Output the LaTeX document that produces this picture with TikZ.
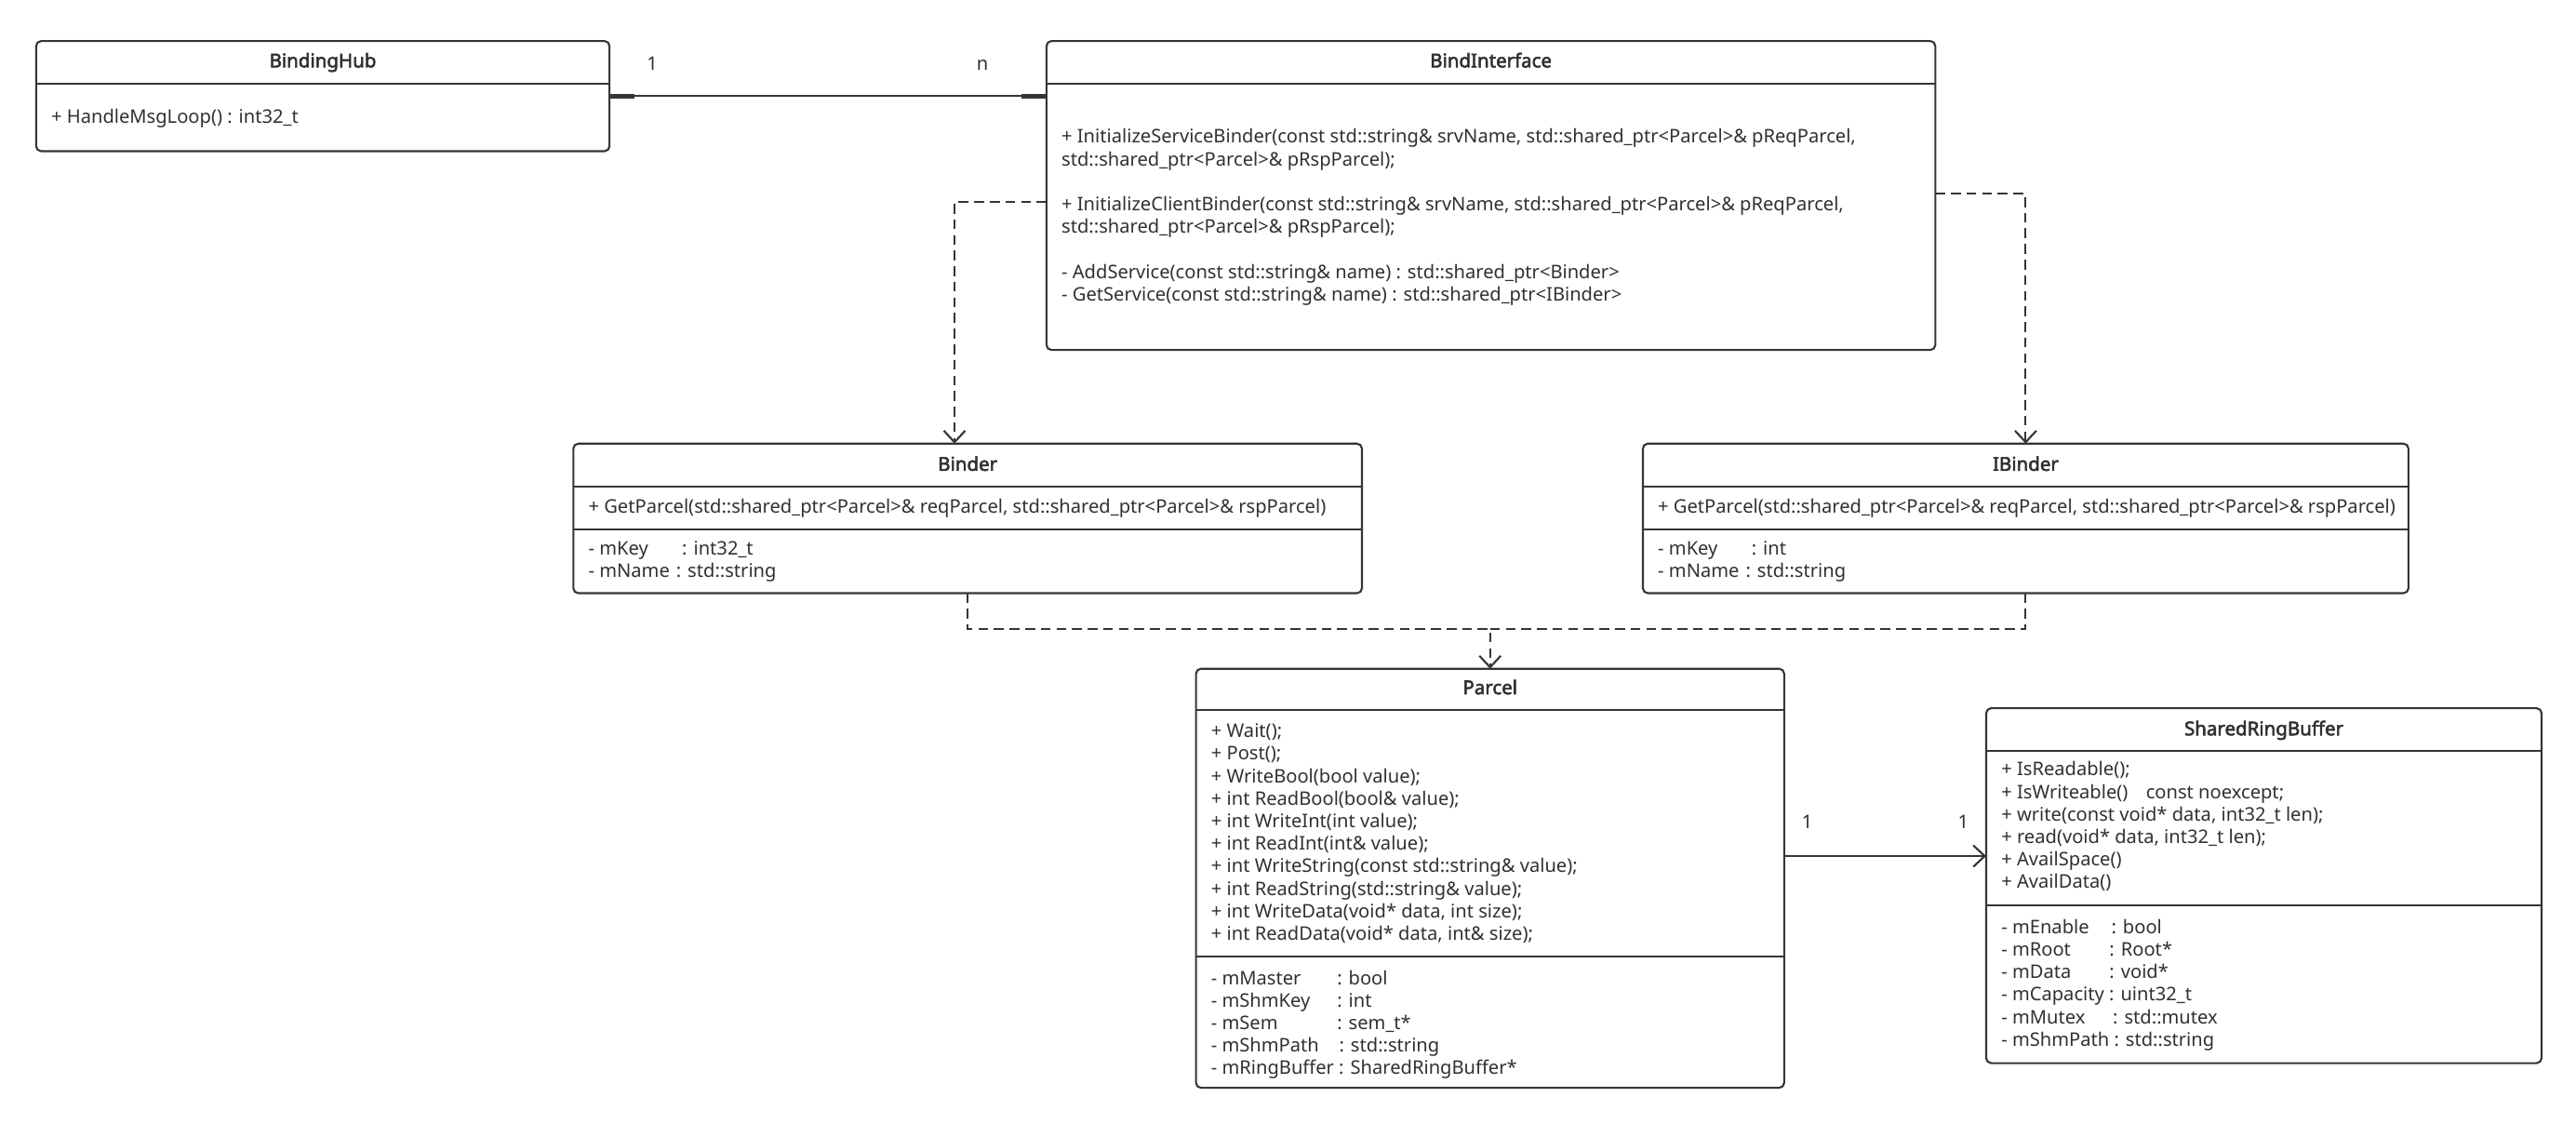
\documentclass[tikz,border=0pt]{standalone}
\usepackage{fontspec}
\setmainfont{Noto Sans}
\newfontfamily\ttlfont{Noto Sans}[FakeBold=2.6]
\usetikzlibrary{arrows.meta}
\definecolor{linec}{HTML}{353535}
\definecolor{txtc}{HTML}{303030}
\newcommand{\umlattr}[3]{\makebox[#1][l]{#2}#3}
\begin{document}
\begin{tikzpicture}[x=1pt,y=-1pt,
  every node/.style={text=txtc},
  cls/.style={draw=linec, line width=1.2pt, rounded corners=3pt, anchor=north west, inner sep=0pt, outer sep=0pt},
  ttl/.style={font=\fontsize{11.6}{13.7}\ttlfont, inner sep=0pt, text height=8pt, text depth=2pt, anchor=center},
  body/.style={font=\fontsize{11.4}{13.7}\selectfont, align=left, anchor=north west, inner sep=0pt},
  lbl/.style={font=\fontsize{11.4}{13.7}\selectfont, inner sep=0pt, text height=8pt, text depth=2pt},
  div/.style={draw=linec, line width=1.2pt},
  dep/.style={draw=linec, line width=1.2pt, dash pattern=on 6pt off 3.5pt},
  opentip/.style={-{Straight Barb[length=7pt,width=13pt]}},
  assoc/.style={draw=linec, line width=1.2pt},
  assocend/.style={draw=linec, line width=2.6pt},
]
\useasboundingbox (0,0) rectangle (1568,684);

% ---------- BindingHub ----------
\node[cls, minimum width=349pt, minimum height=67pt] (hub) at (22,25) {};
\draw[div] (hub.west |- 0,51) -- (hub.east |- 0,51);
\node[ttl] (hubT) at (196.5,38) {BindingHub};
\node[body] (hubM) at (31,66.3) {+ HandleMsgLoop() : int32\_t};

% ---------- BindInterface ----------
\node[cls, minimum width=541pt, minimum height=188pt] (bi) at (637,25) {};
\draw[div] (bi.west |- 0,51) -- (bi.east |- 0,51);
\node[ttl] (biT) at (907.5,38) {BindInterface};
\node[body] (biM) at (646,78.3) {+ InitializeServiceBinder(const std::string\& srvName, std::shared\_ptr<Parcel>\& pReqParcel,\\
std::shared\_ptr<Parcel>\& pRspParcel);\\
\mbox{}\\
+ InitializeClientBinder(const std::string\& srvName, std::shared\_ptr<Parcel>\& pReqParcel,\\
std::shared\_ptr<Parcel>\& pRspParcel);\\
\mbox{}\\
- AddService(const std::string\& name) : std::shared\_ptr<Binder>\\
- GetService(const std::string\& name) : std::shared\_ptr<IBinder>};

% ---------- Binder ----------
\node[cls, minimum width=480pt, minimum height=91pt] (binder) at (349,270) {};
\draw[div] (binder.west |- 0,296) -- (binder.east |- 0,296);
\draw[div] (binder.west |- 0,322) -- (binder.east |- 0,322);
\node[ttl] (binderT) at (589,283.5) {Binder};
\node[body] (binderM) at (358,303.3) {+ GetParcel(std::shared\_ptr<Parcel>\& reqParcel, std::shared\_ptr<Parcel>\& rspParcel)};
\node[body] (binderA) at (358,329.3) {\umlattr{57pt}{- mKey}{: int32\_t}\\
- mName\hspace{1pt} : std::string};

% ---------- IBinder ----------
\node[cls, minimum width=466pt, minimum height=91pt] (ibinder) at (1000,270) {};
\draw[div] (ibinder.west |- 0,296) -- (ibinder.east |- 0,296);
\draw[div] (ibinder.west |- 0,322) -- (ibinder.east |- 0,322);
\node[ttl] (ibinderT) at (1233,283.5) {IBinder};
\node[body] (ibinderM) at (1009,303.3) {+ GetParcel(std::shared\_ptr<Parcel>\& reqParcel, std::shared\_ptr<Parcel>\& rspParcel)};
\node[body] (ibinderA) at (1009,329.3) {\umlattr{57pt}{- mKey}{: int}\\
- mName\hspace{1pt} : std::string};

% ---------- Parcel ----------
\node[cls, minimum width=358pt, minimum height=255pt] (parcel) at (728,407) {};
\draw[div] (parcel.west |- 0,432) -- (parcel.east |- 0,432);
\draw[div] (parcel.west |- 0,582) -- (parcel.east |- 0,582);
\node[ttl] (parcelT) at (907,419.5) {Parcel};
\node[body] (parcelM) at (737,440.3) {+ Wait();\\
+ Post();\\
+ WriteBool(bool value);\\
+ int ReadBool(bool\& value);\\
+ int WriteInt(int value);\\
+ int ReadInt(int\& value);\\
+ int WriteString(const std::string\& value);\\
+ int ReadString(std::string\& value);\\
+ int WriteData(void* data, int size);\\
+ int ReadData(void* data, int\& size);};
\node[body] (parcelA) at (737,590.3) {\umlattr{76.7pt}{- mMaster}{: bool}\\
\umlattr{76.7pt}{- mShmKey}{: int}\\
\umlattr{76.7pt}{- mSem}{: sem\_t*}\\
\umlattr{78pt}{- mShmPath}{: std::string}\\
- mRingBuffer : SharedRingBuffer*};

% ---------- SharedRingBuffer ----------
\node[cls, minimum width=338pt, minimum height=216pt] (srb) at (1209,431) {};
\draw[div] (srb.west |- 0,457) -- (srb.east |- 0,457);
\draw[div] (srb.west |- 0,551) -- (srb.east |- 0,551);
\node[ttl] (srbT) at (1378,444.5) {SharedRingBuffer};
\node[body] (srbM) at (1218,463.3) {+ IsReadable();\\
+ IsWriteable()\hspace{8pt} const noexcept;\\
+ write(const void* data, int32\_t len);\\
+ read(void* data, int32\_t len);\\
+ AvailSpace()\\
+ AvailData()};
\node[body] (srbA) at (1218,559.3) {\umlattr{67pt}{- mEnable}{: bool}\\
\umlattr{65.8pt}{- mRoot}{: Root*}\\
\umlattr{65.8pt}{- mData}{: void*}\\
- mCapacity : uint32\_t\\
\umlattr{67.9pt}{- mMutex}{: std::mutex}\\
- mShmPath : std::string};

% ---------- connectors ----------
% BindingHub -- BindInterface (1 : n)
\draw[assoc] (hub.east |- 0,58.5) -- (bi.west |- 0,58.5);
\draw[assocend] (hub.east |- 0,58.5) -- ++(15,0);
\draw[assocend] (bi.west |- 0,58.5) -- ++(-15,0);
\node[lbl] (hubMult) at (397,40) {1};
\node[lbl] (biMult) at (598,40) {n};

% BindInterface -> Binder, IBinder (dependencies)
\draw[dep, opentip] (bi.west |- 0,123) -| ([xshift=-8pt]binder.north);
\draw[dep, opentip] (bi.east |- 0,118) -| (ibinder.north);

% Binder, IBinder -> Parcel (dependencies)
\coordinate (j) at (parcel.north |- 0,383);
\draw[dep] (ibinder.south) |- (j);
\draw[dep, opentip] (binder.south) |- (j) -- (parcel.north);

% Parcel -> SharedRingBuffer (1 : 1)
\draw[assoc, opentip] (parcel.east |- 0,521) -- (srb.west |- 0,521);
\node[lbl] (parcelMult) at (1100,501) {1};
\node[lbl] (srbMult) at (1195,501) {1};
\end{tikzpicture}
\end{document}
